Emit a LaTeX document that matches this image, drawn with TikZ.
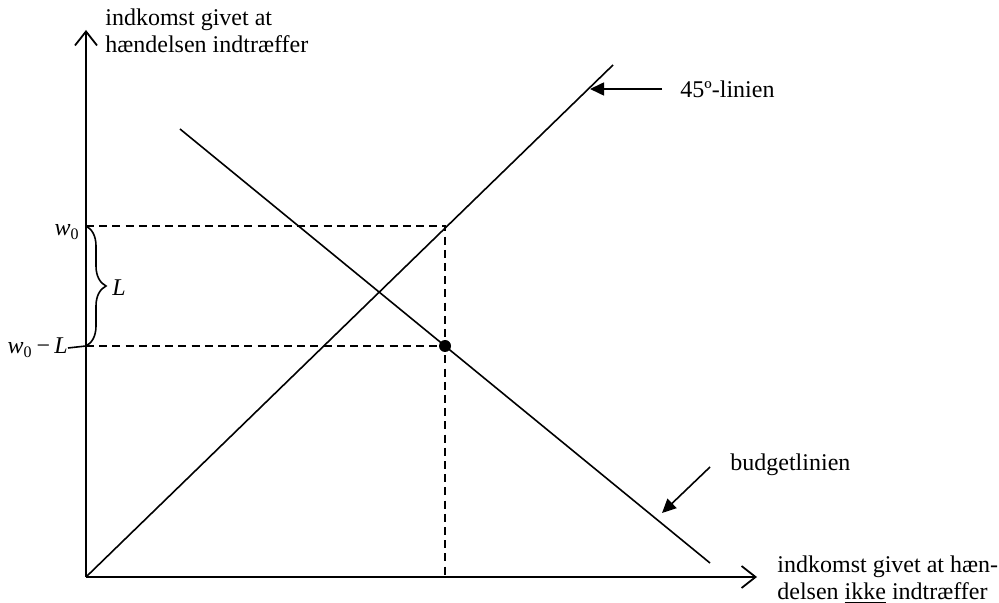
\documentclass[tikz,border=0pt]{standalone}
\usepackage{fontspec}
\setmainfont{Liberation Serif}
\usepackage{tikz}
\usetikzlibrary{arrows.meta, positioning, decorations.pathreplacing}
\tikzset{
  akse/.style={-{Straight Barb[length=7pt,width=11pt]}, line width=0.9pt},
  linje/.style={line width=0.8pt},
  stiplet/.style={dash pattern=on 4pt off 2.6pt, line width=0.75pt},
  pil/.style={-{Triangle[length=7pt,width=6.5pt]}, line width=0.8pt},
  etiket/.style={font=\fontsize{12}{13.5}\selectfont, inner sep=0pt, align=left},
  klamme/.style={decorate, decoration={brace, amplitude=10pt}, line width=0.8pt},
  punkt/.style={circle, fill=black, inner sep=0pt, minimum size=6pt},
}
\newcommand{\wnul}{\textit{w}\textsubscript{0}}

\begin{document}
\begin{tikzpicture}[x=0.5pt, y=-0.5pt]
    \useasboundingbox (0,0) rectangle (999,603);
    % akser
    \coordinate (O) at (86,577);
    \coordinate (ytop) at (86,30);
    \coordinate (xend) at (757,577);
    \draw[akse] (O) -- (ytop);
    \draw[akse] (O) -- (xend);

    % 45-graders linien og budgetlinien
    \coordinate (d45) at (613,65);
    \coordinate (b1) at (180,129);
    \coordinate (b2) at (710,563);
    \draw[linje] (O) -- (d45);
    \draw[linje] (b1) -- (b2);

    % w0 og w0-L
    \coordinate (w0) at (86,226);
    \coordinate (w0L) at (86,346);
    \coordinate (hjorne) at (445,226);
    \coordinate (xw) at (445,577);
    \node[punkt] (pkt) at (445,346) {};
    \draw[stiplet] (w0) -- (hjorne) -- (xw);
    \draw[stiplet] (w0L) -- (pkt);

    \node[etiket, anchor=east] (lw0) at (80,232) {\wnul};
    \node[etiket, anchor=east] (lw0L) at (68,348) {\wnul\,−\,\textit{L}};
    \draw[linje] (lw0L.east) -- (w0L);
    \draw[klamme] (w0) -- (w0L);
    \node[etiket, anchor=west] (lL) at (112,288) {\textit{L}};

    % tekster
    \node[etiket, anchor=west] (ytekst) at (105,31) {indkomst givet at\\hændelsen indtræffer};
    \node[etiket, anchor=west] (xtekst) at (777,580) {indkomst givet at hæn-\\delsen \underline{ikke} indtræffer};
    \node[etiket, anchor=west] (l45) at (680,89) {45º-linien};
    \node[etiket, anchor=west] (lbudget) at (730,465) {budgetlinien};

    \coordinate (p45) at (590,89);
    \coordinate (pbudget) at (662,513);
    \draw[pil, shorten <=9pt] (l45.west) -- (p45);
    \draw[pil] ([xshift=-10pt, yshift=-1pt]lbudget.west) -- (pbudget);
\end{tikzpicture}
\end{document}
